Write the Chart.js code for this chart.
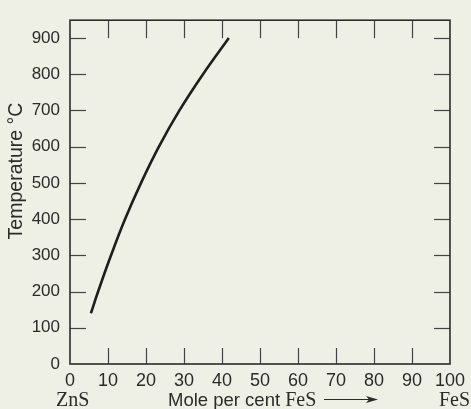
<!DOCTYPE html>
<html>
<head>
<meta charset="utf-8">
<script src="https://cdn.jsdelivr.net/npm/chart.js@4/dist/chart.umd.min.js"></script>
<style>
  html, body { margin: 0; padding: 0; background: #eef0e5; }
  #wrap { width: 471px; height: 409px; }
</style>
</head>
<body>
<div id="wrap"><canvas id="myChart" width="471" height="409"></canvas></div>
<script>
// Mole per cent FeS, with the matching temperature
var molePercentFeS = [5.5, 7.4, 10.8, 14.5, 18.7, 23.4, 28.8, 35.0, 41.8];
var temperature = [140, 200, 300, 400, 500, 600, 700, 800, 900];

// tick labels
var xTicks = [0, 10, 20, 30, 40, 50, 60, 70, 80, 90, 100];
var yTicks = [0, 100, 200, 300, 400, 500, 600, 700, 800, 900];

var bg = '#eef0e5';
var ink = '#2b2b2b';
var tickFont = '"Liberation Sans Narrow", "Liberation Sans", sans-serif';

var points = [];
molePercentFeS.forEach(function (v, i) {
    points.push({ x: v, y: temperature[i] });
});

// background, frame, inward tick marks and the bottom captions
var decorations = {
    id: 'decorations',
    beforeDraw: function (chart) {
        var ctx = chart.ctx;
        ctx.save();
        ctx.fillStyle = bg;
        ctx.fillRect(0, 0, chart.width, chart.height);
        ctx.restore();
    },
    afterDraw: function (chart) {
        var ctx = chart.ctx;
        var a = chart.chartArea;
        var x = chart.scales.x;
        var y = chart.scales.y;

        function line(x1, y1, x2, y2) {
            ctx.beginPath();
            ctx.moveTo(x1, y1);
            ctx.lineTo(x2, y2);
            ctx.stroke();
        }

        ctx.save();
        ctx.strokeStyle = '#444';
        ctx.lineWidth = 1.2;
        xTicks.forEach(function (v) {
            if (v === 0 || v === 100) return;
            var px = Math.round(x.getPixelForValue(v)) + 0.5;
            line(px, a.bottom, px, a.bottom - 16);
            line(px, a.top, px, a.top + 18);
        });
        yTicks.forEach(function (v) {
            if (v === 0) return;
            var py = Math.round(y.getPixelForValue(v)) + 0.5;
            line(a.left, py, a.left + 16, py);
            line(a.right, py, a.right - 16, py);
        });

        ctx.strokeStyle = ink;
        ctx.lineWidth = 1.6;
        ctx.strokeRect(a.left, a.top, a.right - a.left, a.bottom - a.top);

        // axis captions
        ctx.fillStyle = ink;
        ctx.textBaseline = 'alphabetic';
        ctx.font = '20px "Liberation Serif", serif';
        ctx.textAlign = 'left';
        ctx.fillText('ZnS', 56, 406);
        ctx.textAlign = 'right';
        ctx.fillText('FeS', 470, 406);

        ctx.font = '18.5px "Liberation Sans", sans-serif';
        ctx.textAlign = 'left';
        ctx.fillText('Mole per cent ', 168, 406);
        var w = ctx.measureText('Mole per cent ').width;
        ctx.font = '20px "Liberation Serif", serif';
        ctx.fillText('FeS', 168 + w, 406);

        // arrow
        ctx.lineWidth = 1;
        line(324, 399.5, 372, 399.5);
        ctx.beginPath();
        ctx.moveTo(378, 399.5);
        ctx.lineTo(366, 396);
        ctx.lineTo(369, 399.5);
        ctx.lineTo(366, 403);
        ctx.closePath();
        ctx.fill();

        // y title
        ctx.translate(17, 171);
        ctx.rotate(-Math.PI / 2);
        ctx.font = '19.5px "Liberation Sans", sans-serif';
        ctx.textAlign = 'center';
        ctx.textBaseline = 'middle';
        ctx.fillText('Temperature \u00b0C', 0, 0);
        ctx.restore();
    }
};

var chart = new Chart(document.getElementById('myChart').getContext('2d'), {
    type: 'scatter',
    data: {
        datasets: [{
            label: 'Temperature',
            data: points,
            showLine: true,
            borderColor: '#1e1e1e',
            borderWidth: 2.6,
            pointRadius: 0,
            tension: 0.4,
            fill: false
        }]
    },
    options: {
        responsive: false,
        animation: false,
        layout: { padding: { left: 0, right: 19, top: 13, bottom: 0 } },
        plugins: {
            legend: { display: false },
            tooltip: { enabled: false }
        },
        scales: {
            x: {
                type: 'linear',
                min: 0,
                max: 100,
                afterBuildTicks: function (scale) {
                    scale.ticks = xTicks.map(function (v) { return { value: v }; });
                },
                afterFit: function (scale) { scale.height = 45; },
                grid: { display: false, drawTicks: false },
                border: { display: false },
                ticks: {
                    color: ink,
                    padding: 6,
                    maxRotation: 0,
                    autoSkip: false,
                    font: { family: tickFont, size: 18 }
                }
            },
            y: {
                type: 'linear',
                min: 0,
                max: 949,
                afterBuildTicks: function (scale) {
                    scale.ticks = yTicks.map(function (v) { return { value: v }; });
                },
                afterFit: function (scale) { scale.width = 70; },
                grid: { display: false, drawTicks: false },
                border: { display: false },
                ticks: {
                    color: ink,
                    padding: 10,
                    autoSkip: false,
                    font: { family: tickFont, size: 17 }
                }
            }
        }
    },
    plugins: [decorations]
});
</script>
</body>
</html>
